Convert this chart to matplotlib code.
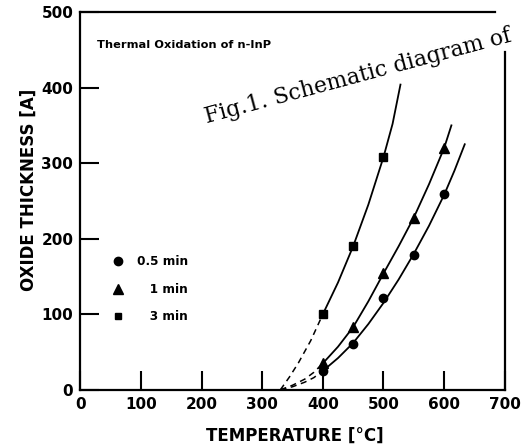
import matplotlib
matplotlib.use('Agg')
import matplotlib.pyplot as plt
from matplotlib.lines import Line2D

plt.rcParams['font.family'] = ['DejaVu Sans']

# measured points (temperature in C, thickness in A)
temp_05 = [400, 450, 500, 550, 600]
thick_05 = [25, 60, 121, 178, 259]
temp_1 = [400, 450, 500, 550, 600]
thick_1 = [35, 83, 154, 228, 320]
temp_3 = [400, 450, 500]
thick_3 = [100, 190, 308]

# fitted curves
curve_05_t = [400, 425, 450, 475, 500, 525, 550, 575, 600, 617, 634]
curve_05_y = [25, 42, 62, 87, 115, 146, 180, 217, 258, 290, 325]
curve_1_t = [400, 425, 450, 475, 500, 525, 550, 575, 600, 612]
curve_1_y = [35, 57, 83, 117, 154, 190, 228, 272, 320, 350]
curve_3_t = [400, 425, 450, 475, 500, 515, 528]
curve_3_y = [100, 142, 190, 245, 308, 352, 404]

# dashed extrapolation towards the onset temperature
dash_05_t = [330, 350, 370, 385, 400]
dash_05_y = [0, 4, 10, 16, 25]
dash_1_t = [330, 350, 370, 385, 400]
dash_1_y = [0, 6, 14, 23, 35]
dash_3_t = [330, 345, 360, 380, 400]
dash_3_y = [0, 17, 36, 65, 100]

x_ticks = [0, 100, 200, 300, 400, 500, 600, 700]
y_ticks = [0, 100, 200, 300, 400, 500]

fig = plt.figure(figsize=(5.28, 4.47), dpi=100)
ax = fig.add_axes([0.152, 0.128, 0.804, 0.845])

lw = 1.3
ax.plot(curve_05_t, curve_05_y, color='black', lw=lw)
ax.plot(curve_1_t, curve_1_y, color='black', lw=lw)
ax.plot(curve_3_t, curve_3_y, color='black', lw=lw)
for t, y in [(dash_05_t, dash_05_y), (dash_1_t, dash_1_y), (dash_3_t, dash_3_y)]:
    ax.plot(t, y, color='black', lw=1.1, ls=(0, (4, 3)))

ax.plot(temp_05, thick_05, 'o', color='black', ms=6)
ax.plot(temp_1, thick_1, '^', color='black', ms=7)
ax.plot(temp_3, thick_3, 's', color='black', ms=6)

ax.set_xlim(0, 700)
ax.set_ylim(0, 500)
ax.set_xticks(x_ticks)
ax.set_yticks(y_ticks)
ax.set_xticklabels([str(v) for v in x_ticks], fontsize=11, fontweight='bold')
ax.set_yticklabels([str(v) for v in y_ticks], fontsize=11, fontweight='bold')
ax.tick_params(direction='in', length=14, width=1.5, pad=5)
for s in ax.spines.values():
    s.set_linewidth(1.6)
ax.spines['right'].set_bounds(0, 447)
ax.spines['top'].set_bounds(0, 684)

ax.set_xlabel('TEMPERATURE [\u00b0C]', fontsize=12, fontweight='bold')
ax.set_ylabel('OXIDE THICKNESS [A]', fontsize=12, fontweight='bold')
ax.xaxis.set_label_coords(0.505, -0.098)
ax.yaxis.set_label_coords(-0.1, 0.53)

ax.text(0.04, 0.913, 'Thermal Oxidation of n-InP', transform=ax.transAxes,
        fontsize=8.2, fontweight='bold', va='center')

handles = [Line2D([], [], marker='o', color='black', ls='none', ms=6),
           Line2D([], [], marker='^', color='black', ls='none', ms=7),
           Line2D([], [], marker='s', color='black', ls='none', ms=5)]
ax.legend(handles, ['0.5 min', '   1 min', '   3 min'], loc='upper left',
          bbox_to_anchor=(0.035, 0.385), frameon=False,
          prop={'weight': 'bold', 'size': 8.7}, handletextpad=0.6, labelspacing=1.2)

fig.text(0.383, 0.725, 'Fig.1. Schematic diagram of', family='DejaVu Serif',
         fontsize=15.8, rotation=15, ha='left', va='baseline')

fig.savefig('out.png', dpi=100)
